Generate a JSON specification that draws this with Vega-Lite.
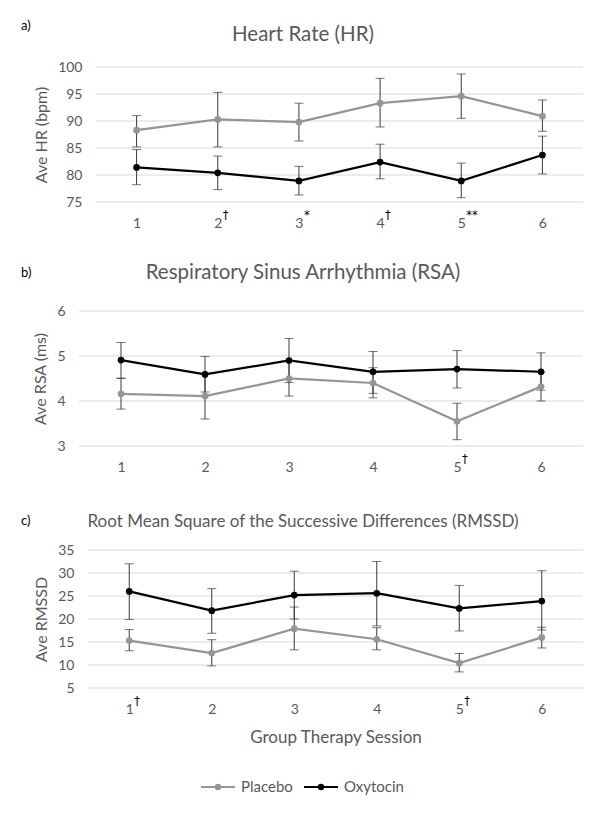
{
  "$schema": "https://vega.github.io/schema/vega-lite/v6.json",
  "background": "white",
  "padding": {"left": 20, "top": 20, "right": 0, "bottom": 0},
  "config": {
    "font": "Lato",
    "view": {"stroke": null},
    "axis": {"labelFont": "Lato", "labelFontSize": 14, "labelColor": "#595959", "titleFont": "Lato", "titleFontSize": 16, "titleFontWeight": "normal", "titleColor": "#595959", "domain": false, "ticks": false, "tickSize": 0, "labelOverlap": false},
    "axisX": {"grid": false, "labelPadding": 14, "labelAngle": 0},
    "axisY": {"grid": false, "labelPadding": 14, "titlePadding": 8, "labelOverlap": false, "tickCount": 12, "format": "d"},
    "title": {"font": "Lato", "fontSize": 20.5, "fontWeight": "normal", "color": "#595959"}
  },
  "datasets": {
    "main": [
      {"panel": "HR", "session": "1", "group": "Placebo", "mean": 88.3, "lo": 85.2, "hi": 91.0},
      {"panel": "HR", "session": "2", "group": "Placebo", "mean": 90.3, "lo": 85.2, "hi": 95.3},
      {"panel": "HR", "session": "3", "group": "Placebo", "mean": 89.8, "lo": 86.3, "hi": 93.3},
      {"panel": "HR", "session": "4", "group": "Placebo", "mean": 93.3, "lo": 88.9, "hi": 97.9},
      {"panel": "HR", "session": "5", "group": "Placebo", "mean": 94.6, "lo": 90.5, "hi": 98.7},
      {"panel": "HR", "session": "6", "group": "Placebo", "mean": 90.9, "lo": 88.1, "hi": 93.9},
      {"panel": "HR", "session": "1", "group": "Oxytocin", "mean": 81.4, "lo": 78.2, "hi": 84.7},
      {"panel": "HR", "session": "2", "group": "Oxytocin", "mean": 80.4, "lo": 77.3, "hi": 83.5},
      {"panel": "HR", "session": "3", "group": "Oxytocin", "mean": 78.9, "lo": 76.3, "hi": 81.6},
      {"panel": "HR", "session": "4", "group": "Oxytocin", "mean": 82.4, "lo": 79.3, "hi": 85.7},
      {"panel": "HR", "session": "5", "group": "Oxytocin", "mean": 78.9, "lo": 75.8, "hi": 82.2},
      {"panel": "HR", "session": "6", "group": "Oxytocin", "mean": 83.7, "lo": 80.2, "hi": 87.2},
      {"panel": "RSA", "session": "1", "group": "Placebo", "mean": 4.16, "lo": 3.82, "hi": 4.5},
      {"panel": "RSA", "session": "2", "group": "Placebo", "mean": 4.11, "lo": 3.6, "hi": 4.62},
      {"panel": "RSA", "session": "3", "group": "Placebo", "mean": 4.5, "lo": 4.11, "hi": 4.89},
      {"panel": "RSA", "session": "4", "group": "Placebo", "mean": 4.4, "lo": 4.07, "hi": 4.74},
      {"panel": "RSA", "session": "5", "group": "Placebo", "mean": 3.55, "lo": 3.14, "hi": 3.95},
      {"panel": "RSA", "session": "6", "group": "Placebo", "mean": 4.32, "lo": 4.0, "hi": 4.64},
      {"panel": "RSA", "session": "1", "group": "Oxytocin", "mean": 4.91, "lo": 4.51, "hi": 5.3},
      {"panel": "RSA", "session": "2", "group": "Oxytocin", "mean": 4.59, "lo": 4.2, "hi": 4.99},
      {"panel": "RSA", "session": "3", "group": "Oxytocin", "mean": 4.9, "lo": 4.41, "hi": 5.39},
      {"panel": "RSA", "session": "4", "group": "Oxytocin", "mean": 4.65, "lo": 4.17, "hi": 5.1},
      {"panel": "RSA", "session": "5", "group": "Oxytocin", "mean": 4.71, "lo": 4.29, "hi": 5.12},
      {"panel": "RSA", "session": "6", "group": "Oxytocin", "mean": 4.65, "lo": 4.24, "hi": 5.07},
      {"panel": "RMSSD", "session": "1", "group": "Placebo", "mean": 15.3, "lo": 13.1, "hi": 17.7},
      {"panel": "RMSSD", "session": "2", "group": "Placebo", "mean": 12.6, "lo": 9.8, "hi": 15.5},
      {"panel": "RMSSD", "session": "3", "group": "Placebo", "mean": 17.9, "lo": 13.3, "hi": 22.6},
      {"panel": "RMSSD", "session": "4", "group": "Placebo", "mean": 15.6, "lo": 13.3, "hi": 18.1},
      {"panel": "RMSSD", "session": "5", "group": "Placebo", "mean": 10.4, "lo": 8.5, "hi": 12.5},
      {"panel": "RMSSD", "session": "6", "group": "Placebo", "mean": 16.0, "lo": 13.7, "hi": 18.2},
      {"panel": "RMSSD", "session": "1", "group": "Oxytocin", "mean": 26.0, "lo": 19.9, "hi": 32.0},
      {"panel": "RMSSD", "session": "2", "group": "Oxytocin", "mean": 21.8, "lo": 16.9, "hi": 26.6},
      {"panel": "RMSSD", "session": "3", "group": "Oxytocin", "mean": 25.2, "lo": 20.0, "hi": 30.4},
      {"panel": "RMSSD", "session": "4", "group": "Oxytocin", "mean": 25.6, "lo": 18.5, "hi": 32.5},
      {"panel": "RMSSD", "session": "5", "group": "Oxytocin", "mean": 22.3, "lo": 17.4, "hi": 27.3},
      {"panel": "RMSSD", "session": "6", "group": "Oxytocin", "mean": 23.9, "lo": 17.6, "hi": 30.5}
    ],
    "sups": [
      {"panel": "HR", "session": "2", "sup": "†"},
      {"panel": "HR", "session": "3", "sup": "*"},
      {"panel": "HR", "session": "4", "sup": "†"},
      {"panel": "HR", "session": "5", "sup": "**"},
      {"panel": "RSA", "session": "5", "sup": "†"},
      {"panel": "RMSSD", "session": "1", "sup": "†"},
      {"panel": "RMSSD", "session": "5", "sup": "†"}
    ],
    "gridHR": [{"v": 75}, {"v": 80}, {"v": 85}, {"v": 90}, {"v": 95}, {"v": 100}],
    "gridRSA": [{"v": 3}, {"v": 4}, {"v": 5}, {"v": 6}],
    "gridRMSSD": [{"v": 5}, {"v": 10}, {"v": 15}, {"v": 20}, {"v": 25}, {"v": 30}, {"v": 35}]
  },
  "columns": 1,
  "spacing": 32,
  "concat": [
    {
      "width": 504,
      "height": 135,
      "title": {"text": "Heart Rate (HR)", "offset": -25, "anchor": "middle", "frame": "group", "dx": -28},
      "encoding": {
        "x": {"field": "session", "type": "ordinal", "scale": {"type": "point", "padding": 0.5, "domain": ["1", "2", "3", "4", "5", "6"], "range": [17, 504]}, "axis": {"title": null}}
      },
      "layer": [
        {
          "data": {"name": "gridHR"},
          "mark": {"type": "rule", "color": "#d9d9d9", "strokeWidth": 1, "xOffset": -40.58, "x2Offset": 40.58},
          "encoding": {"x": {"datum": "1", "type": "ordinal"}, "x2": {"datum": "6"}, "y": {"field": "v", "type": "quantitative", "title": "Ave HR (bpm)"}}
        },
        {
          "data": {"name": "main"},
          "transform": [{"filter": "datum.panel === 'HR'"}],
          "mark": {"type": "line", "strokeWidth": 2.25},
          "encoding": {
            "y": {"field": "mean", "type": "quantitative", "title": "Ave HR (bpm)", "scale": {"domain": [75, 100], "zero": false, "nice": false}, "axis": {"values": [75, 80, 85, 90, 95, 100], "tickCount": 12, "format": "d", "offset": -17}},
            "color": {"field": "group", "type": "nominal", "scale": {"domain": ["Placebo", "Oxytocin"], "range": ["#959595", "#000000"]}, "legend": {"orient": "none", "legendX": 121, "legendY": 702, "direction": "horizontal", "title": null, "symbolType": "M-1,0H1M-0.13,0A0.13,0.13,0,1,1,0.13,0A0.13,0.13,0,1,1,-0.13,0Z", "symbolSize": 1156, "symbolStrokeWidth": 2, "labelFont": "Lato", "labelFontSize": 15, "labelColor": "#595959", "labelOffset": 5, "columnPadding": 7, "encode": {"symbols": {"update": {"fill": {"scale": "color", "field": "value"}, "stroke": {"scale": "color", "field": "value"}, "opacity": {"value": 1}}}}}}
          }
        },
        {
          "data": {"name": "main"},
          "transform": [{"filter": "datum.panel === 'HR'"}],
          "mark": {"type": "errorbar", "ticks": true, "color": "#3a3a3a", "thickness": 1, "size": 9},
          "encoding": {
            "y": {"field": "lo", "type": "quantitative", "title": "Ave HR (bpm)"},
            "y2": {"field": "hi"}
          }
        },
        {
          "data": {"name": "main"},
          "transform": [{"filter": "datum.panel === 'HR'"}],
          "mark": {"type": "point", "filled": true, "size": 45, "opacity": 1},
          "encoding": {
            "y": {"field": "mean", "type": "quantitative", "title": "Ave HR (bpm)"},
            "color": {"field": "group", "type": "nominal"}
          }
        },
        {
          "data": {"values": [{"label": "a)"}]},
          "mark": {"type": "text", "align": "left", "baseline": "middle", "dx": -115.6, "dy": -41, "fontSize": 13, "color": "#000000"},
          "encoding": {"x": {"datum": "1", "type": "ordinal"}, "y": {"datum": 100, "type": "quantitative"}, "text": {"field": "label"}}
        },
        {
          "data": {"name": "sups"},
          "transform": [{"filter": "datum.panel === 'HR'"}],
          "mark": {"type": "text", "align": "left", "baseline": "middle", "dx": 5, "dy": 14, "font": "DejaVu Sans", "fontSize": 11.5, "color": "#000000"},
          "encoding": {"y": {"datum": 75, "type": "quantitative"}, "text": {"field": "sup"}}
        }
      ]
    },
    {
      "width": 504,
      "height": 135,
      "title": {"text": "Respiratory Sinus Arrhythmia (RSA)", "offset": -16, "anchor": "middle", "frame": "group", "dx": -28},
      "encoding": {
        "x": {"field": "session", "type": "ordinal", "scale": {"type": "point", "padding": 0.5, "domain": ["1", "2", "3", "4", "5", "6"], "range": [0, 504]}, "axis": {"title": null}}
      },
      "layer": [
        {
          "data": {"name": "gridRSA"},
          "mark": {"type": "rule", "color": "#d9d9d9", "strokeWidth": 1, "xOffset": -42, "x2Offset": 42},
          "encoding": {"x": {"datum": "1", "type": "ordinal"}, "x2": {"datum": "6"}, "y": {"field": "v", "type": "quantitative", "title": "Ave RSA (ms)"}}
        },
        {
          "data": {"name": "main"},
          "transform": [{"filter": "datum.panel === 'RSA'"}],
          "mark": {"type": "line", "strokeWidth": 2.25},
          "encoding": {
            "y": {"field": "mean", "type": "quantitative", "title": "Ave RSA (ms)", "scale": {"domain": [3, 6], "zero": false, "nice": false}, "axis": {"values": [3, 4, 5, 6], "tickCount": 12, "format": "d"}},
            "color": {"field": "group", "type": "nominal"}
          }
        },
        {
          "data": {"name": "main"},
          "transform": [{"filter": "datum.panel === 'RSA'"}],
          "mark": {"type": "errorbar", "ticks": true, "color": "#3a3a3a", "thickness": 1, "size": 9},
          "encoding": {
            "y": {"field": "lo", "type": "quantitative", "title": "Ave RSA (ms)"},
            "y2": {"field": "hi"}
          }
        },
        {
          "data": {"name": "main"},
          "transform": [{"filter": "datum.panel === 'RSA'"}],
          "mark": {"type": "point", "filled": true, "size": 45, "opacity": 1},
          "encoding": {
            "y": {"field": "mean", "type": "quantitative", "title": "Ave RSA (ms)"},
            "color": {"field": "group", "type": "nominal"}
          }
        },
        {
          "data": {"values": [{"label": "b)"}]},
          "mark": {"type": "text", "align": "left", "baseline": "middle", "dx": -100, "dy": -38, "fontSize": 13, "color": "#000000"},
          "encoding": {"x": {"datum": "1", "type": "ordinal"}, "y": {"datum": 6, "type": "quantitative"}, "text": {"field": "label"}}
        },
        {
          "data": {"name": "sups"},
          "transform": [{"filter": "datum.panel === 'RSA'"}],
          "mark": {"type": "text", "align": "left", "baseline": "middle", "dx": 5, "dy": 14, "font": "DejaVu Sans", "fontSize": 11.5, "color": "#000000"},
          "encoding": {"y": {"datum": 3, "type": "quantitative"}, "text": {"field": "sup"}}
        }
      ]
    },
    {
      "width": 504,
      "height": 138,
      "title": {"text": ["", "Root Mean Square of the Successive Differences (RMSSD)"], "lineHeight": 7, "offset": -16, "anchor": "middle", "frame": "group", "fontSize": 17, "dx": -28},
      "encoding": {
        "x": {"field": "session", "type": "ordinal", "scale": {"type": "point", "padding": 0.5, "domain": ["1", "2", "3", "4", "5", "6"], "range": [9, 504]}, "axis": {"title": "Group Therapy Session", "titlePadding": 13, "titleFontSize": 17}}
      },
      "layer": [
        {
          "data": {"name": "gridRMSSD"},
          "mark": {"type": "rule", "color": "#d9d9d9", "strokeWidth": 1, "xOffset": -41.25, "x2Offset": 41.25},
          "encoding": {"x": {"datum": "1", "type": "ordinal"}, "x2": {"datum": "6"}, "y": {"field": "v", "type": "quantitative", "title": "Ave RMSSD"}}
        },
        {
          "data": {"name": "main"},
          "transform": [{"filter": "datum.panel === 'RMSSD'"}],
          "mark": {"type": "line", "strokeWidth": 2.25},
          "encoding": {
            "y": {"field": "mean", "type": "quantitative", "title": "Ave RMSSD", "scale": {"domain": [5, 35], "zero": false, "nice": false}, "axis": {"values": [5, 10, 15, 20, 25, 30, 35], "tickCount": 12, "format": "d", "offset": -9}},
            "color": {"field": "group", "type": "nominal"}
          }
        },
        {
          "data": {"name": "main"},
          "transform": [{"filter": "datum.panel === 'RMSSD'"}],
          "mark": {"type": "errorbar", "ticks": true, "color": "#3a3a3a", "thickness": 1, "size": 9},
          "encoding": {
            "y": {"field": "lo", "type": "quantitative", "title": "Ave RMSSD"},
            "y2": {"field": "hi"}
          }
        },
        {
          "data": {"name": "main"},
          "transform": [{"filter": "datum.panel === 'RMSSD'"}],
          "mark": {"type": "point", "filled": true, "size": 45, "opacity": 1},
          "encoding": {
            "y": {"field": "mean", "type": "quantitative", "title": "Ave RMSSD"},
            "color": {"field": "group", "type": "nominal"}
          }
        },
        {
          "data": {"values": [{"label": "c)"}]},
          "mark": {"type": "text", "align": "left", "baseline": "middle", "dx": -108.25, "dy": -29, "fontSize": 13, "color": "#000000"},
          "encoding": {"x": {"datum": "1", "type": "ordinal"}, "y": {"datum": 35, "type": "quantitative"}, "text": {"field": "label"}}
        },
        {
          "data": {"name": "sups"},
          "transform": [{"filter": "datum.panel === 'RMSSD'"}],
          "mark": {"type": "text", "align": "left", "baseline": "middle", "dx": 5, "dy": 14, "font": "DejaVu Sans", "fontSize": 11.5, "color": "#000000"},
          "encoding": {"y": {"datum": 5, "type": "quantitative"}, "text": {"field": "sup"}}
        }
      ]
    }
  ]
}
